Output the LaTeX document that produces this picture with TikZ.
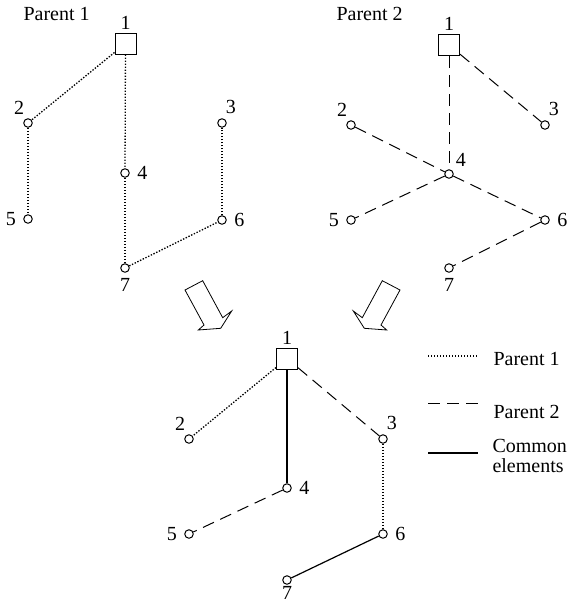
\documentclass[tikz,border=0pt]{standalone}
\usepackage{fontspec}
\setmainfont{Liberation Serif}
\usetikzlibrary{positioning}

\begin{document}
\begin{tikzpicture}[x=1pt, y=-1pt, line width=1pt,
        sq/.style={draw, minimum size=21pt, inner sep=0pt},
        dot/.style={draw, circle, minimum size=8.5pt, inner sep=0pt},
        lbl/.style={inner sep=0pt, font=\fontsize{20}{24}\selectfont},
        every label/.style={lbl},
        par1/.style={line width=1.3pt, dash pattern=on 1.4pt off 1.6pt},
        par2/.style={dash pattern=on 12pt off 7pt},
        common/.style={solid, line width=1.2pt}]
    \useasboundingbox (0,0) rectangle (568,603);
    % parent 1
    \node [lbl, anchor=base west] (t1) at (23,20) {Parent 1};
    \node [sq, label={[yshift=3pt]above:1}] (a1) at (125.5,43.5) {};
    \node [dot, label={[yshift=5pt]above left:2}] (a2) at (28,123) {};
    \node [dot, label={[yshift=5pt]above right:3}] (a3) at (222,123) {};
    \node [dot, label={[xshift=7pt]right:4}] (a4) at (125,173) {};
    \node [dot, label={[xshift=-7pt]left:5}] (a5) at (28,219) {};
    \node [dot, label={[xshift=7pt]right:6}] (a6) at (222,220) {};
    \node [dot, label={[yshift=-5pt]below:7}] (a7) at (125,268) {};
    \draw [par1] (a1) -- (a2);
    \draw [par1] (a2) -- (a5);
    \draw [par1] (a1) -- (a4);
    \draw [par1] (a4) -- (a7);
    \draw [par1] (a7) -- (a6);
    \draw [par1] (a6) -- (a3);
    % parent 2
    \node [lbl, anchor=base west] (t2) at (336,20) {Parent 2};
    \node [sq, label={[yshift=3pt]above:1}] (b1) at (449,45) {};
    \node [dot, label={[yshift=5pt]above left:2}] (b2) at (351,125) {};
    \node [dot, label={[yshift=5pt]above right:3}] (b3) at (545,125) {};
    \node [dot, label={[xshift=3pt, yshift=4pt]above right:4}] (b4) at (449,174) {};
    \node [dot, label={[xshift=-7pt]left:5}] (b5) at (351,220) {};
    \node [dot, label={[xshift=7pt]right:6}] (b6) at (545,220) {};
    \node [dot, label={[yshift=-5pt]below:7}] (b7) at (449,268) {};
    \draw [par2] (b1) -- (b4);
    \draw [par2] (b1) -- (b3);
    \draw [par2] (b2) -- (b4);
    \draw [par2] (b4) -- (b6);
    \draw [par2] (b4) -- (b5);
    \draw [par2] (b6) -- (b7);
    % arrows
    \draw [fill=white, line width=0.8pt, line join=miter] (185,290) -- (204,325) -- (198.3,330) -- (220.7,328.3) -- (231.7,311) -- (222.7,317.7) -- (202.7,280.7) -- cycle;
    \draw [fill=white, line width=0.8pt, line join=miter] (400,290) -- (381,325) -- (386.7,330) -- (364.3,328.3) -- (353.3,311) -- (362.3,317.7) -- (382.3,280.7) -- cycle;
    % child
    \node [sq, label={[yshift=3pt]above:1}] (c1) at (287,358.5) {};
    \node [dot, label={[yshift=5pt]above left:2}] (c2) at (189,439) {};
    \node [dot, label={[yshift=5pt]above right:3}] (c3) at (383,439) {};
    \node [dot, label={[xshift=7pt]right:4}] (c4) at (287,488) {};
    \node [dot, label={[xshift=-7pt]left:5}] (c5) at (189,534) {};
    \node [dot, label={[xshift=7pt]right:6}] (c6) at (383,534) {};
    \node [dot, label={[yshift=-1.5pt]below:7}] (c7) at (287,580) {};
    \draw [par1] (c1) -- (c2);
    \draw [common] (c1) -- (c4);
    \draw [par2] (c1) -- (c3);
    \draw [par1] (c3) -- (c6);
    \draw [par2] (c4) -- (c5);
    \draw [common] (c6) -- (c7);
    % legend
    \coordinate (l1a) at (428,356);
    \coordinate (l1b) at (478,356);
    \coordinate (l2a) at (428,403);
    \coordinate (l2b) at (478,403);
    \coordinate (l3a) at (428,453);
    \coordinate (l3b) at (478,453);
    \draw [par1] (l1a) -- (l1b);
    \draw [par2] (l2a) -- (l2b);
    \draw [common] (l3a) -- (l3b);
    \node [lbl, anchor=base west] (lt1) at (493,365) {Parent 1};
    \node [lbl, anchor=base west] (lt2) at (493,418) {Parent 2};
    \node [lbl, anchor=base west] (lt3) at (492,452) {Common};
    \node [lbl, anchor=base west] (lt4) at (492,472) {elements};
\end{tikzpicture}
\end{document}
